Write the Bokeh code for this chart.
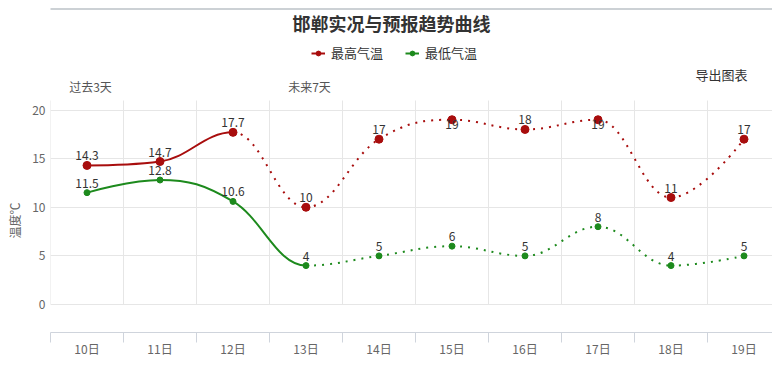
import math
from bokeh.plotting import figure
from bokeh.models import (ColumnDataSource, FixedTicker, Label, Legend, LegendItem,
                          BoxAnnotation, Range1d)
from bokeh.core.properties import value
from bokeh.embed import file_html
from bokeh.resources import INLINE

# ---------------- data ----------------
days = ["10日", "11日", "12日", "13日", "14日", "15日", "16日", "17日", "18日", "19日"]
high = [14.3, 14.7, 17.7, 10, 17, 19, 18, 19, 11, 17]
low = [11.5, 12.8, 10.6, 4, 5, 6, 5, 8, 4, 5]
high_solid_until = 2   # last index of solid (observed) part
low_solid_until = 3
y_ticks = [0, 5, 10, 15, 20]
series_names = ["最高气温", "最低气温"]
title_text = "邯郸实况与预报趋势曲线"
period_labels = ["过去3天", "未来7天"]
export_text = "导出图表"
y_title = "温度℃"

RED = "#a80d0d"
GREEN = "#1d8a1d"
GRID = "#e6e6e6"
AXIS = "#cfd4dc"
FONT = "Noto Sans CJK SC"

# ---------------- geometry (pixels of the page) ----------------
W, H = 772, 367
ML, MB = 50, 35
frame_bottom_px = H - MB          # 332
zero_px, twenty_px, plot_top_px = 304.0, 109.5, 100.0
ppu = (zero_px - twenty_px) / 20.0
cat_px = 73.0
x_start = -0.5
x_end = x_start + (W - ML) / cat_px
y_start = -(frame_bottom_px - zero_px) / ppu
y_end = zero_px / ppu
grid_top = (zero_px - plot_top_px) / ppu

xs = list(range(len(days)))


def spline(xv, yv, smoothing=1.5):
    n = len(xv)
    left = [(xv[i], yv[i]) for i in range(n)]
    right = [(xv[i], yv[i]) for i in range(n)]
    d = smoothing + 1
    for i in range(1, n - 1):
        px, py = xv[i], yv[i]
        lx, ly = xv[i - 1], yv[i - 1]
        nx, ny = xv[i + 1], yv[i + 1]
        lcx = (smoothing * px + lx) / d
        lcy = (smoothing * py + ly) / d
        rcx = (smoothing * px + nx) / d
        rcy = (smoothing * py + ny) / d
        corr = ((rcy - lcy) * (rcx - px)) / (rcx - lcx) + py - rcy
        lcy += corr
        rcy += corr
        if lcy > ly and lcy > py:
            lcy = max(ly, py); rcy = 2 * py - lcy
        elif lcy < ly and lcy < py:
            lcy = min(ly, py); rcy = 2 * py - lcy
        if rcy > ny and rcy > py:
            rcy = max(ny, py); lcy = 2 * py - rcy
        elif rcy < ny and rcy < py:
            rcy = min(ny, py); lcy = 2 * py - rcy
        left[i] = (lcx, lcy)
        right[i] = (rcx, rcy)
    segs = []
    for i in range(1, n):
        segs.append(dict(x0=xv[i - 1], y0=yv[i - 1], x1=xv[i], y1=yv[i],
                         cx0=right[i - 1][0], cy0=right[i - 1][1],
                         cx1=left[i][0], cy1=left[i][1], idx=i))
    return segs


def seg_sources(yv, solid_until):
    segs = spline(xs, yv)
    solid = {k: [s[k] for s in segs if s["idx"] <= solid_until] for k in segs[0]}
    dotted = {k: [s[k] for s in segs if s["idx"] > solid_until] for k in segs[0]}
    return ColumnDataSource(solid), ColumnDataSource(dotted)


p = figure(width=W, height=H, x_range=Range1d(x_start, x_end), y_range=Range1d(y_start, y_end),
           output_backend="svg", toolbar_location=None,
           min_border_left=ML, min_border_right=0, min_border_top=0, min_border_bottom=MB)
p.outline_line_color = None
p.background_fill_color = "white"
p.border_fill_color = "white"

# grids
p.xgrid.visible = False
p.ygrid.ticker = FixedTicker(ticks=y_ticks)
p.ygrid.grid_line_color = GRID
bounds = [i - 0.5 for i in range(len(days) + 1)]
p.segment(x0=bounds, y0=[0] * len(bounds), x1=bounds, y1=[grid_top] * len(bounds),
          line_color=GRID, line_width=1)

# axes
ya = p.yaxis[0]
ya.ticker = FixedTicker(ticks=y_ticks)
ya.axis_line_color = None
ya.major_tick_line_color = None
ya.minor_tick_line_color = None
ya.major_tick_out = 0
ya.major_tick_in = 0
ya.major_label_standoff = 5
ya.major_label_text_font = FONT
ya.major_label_text_font_size = "12px"
ya.major_label_text_color = "#666666"
# Highcharts centres the axis title on the 0-20 span, Bokeh on the whole frame:
# pad the end of the (upward-reading) title with ideographic spaces to move it down.
ya.axis_label = y_title + "\u3000" * 9
ya.axis_label_standoff = 6
ya.axis_label_text_font = FONT
ya.axis_label_text_font_size = "12px"
ya.axis_label_text_font_style = "normal"
ya.axis_label_text_color = "#666666"

xa = p.xaxis[0]
xa.ticker = FixedTicker(ticks=xs, minor_ticks=bounds)
xa.major_label_overrides = {i: d for i, d in enumerate(days)}
xa.axis_line_color = AXIS
xa.major_tick_line_color = None
xa.major_tick_out = 0
xa.major_tick_in = 0
xa.minor_tick_line_color = AXIS
xa.minor_tick_out = 10
xa.minor_tick_in = 0
xa.major_label_standoff = -3
xa.major_label_text_font = FONT
xa.major_label_text_font_size = "12px"
xa.major_label_text_color = "#666666"

# series
legend_items = []
for yv, solid_until, color, msize, name in [(high, high_solid_until, RED, 8, series_names[0]),
                                             (low, low_solid_until, GREEN, 6, series_names[1])]:
    s_src, d_src = seg_sources(yv, solid_until)
    p.bezier(x0="x0", y0="y0", x1="x1", y1="y1", cx0="cx0", cy0="cy0", cx1="cx1", cy1="cy1",
             source=s_src, line_color=color, line_width=2)
    p.bezier(x0="x0", y0="y0", x1="x1", y1="y1", cx0="cx0", cy0="cy0", cx1="cx1", cy1="cy1",
             source=d_src, line_color=color, line_width=2, line_dash="2 6")
    mr = p.scatter(x=xs, y=yv, size=msize, marker="circle", fill_color=color, line_color=color)
    leg_line = p.line(x=[float("nan")], y=[float("nan")], line_color=color, line_width=2)
    legend_items.append(LegendItem(label=name, renderers=[leg_line, mr]))
    # data labels: above the point unless that would leave the plot area
    above = [(grid_top - v) * ppu >= 22 for v in yv]
    src = ColumnDataSource(dict(
        x=xs, y=yv, t=[f"{v:g}" for v in yv],
        base=["bottom" if a else "top" for a in above],
        dy=[-5 if a else 0 for a in above]))
    p.text(x="x", y="y", text="t", source=src, text_align="center", text_baseline="base",
           y_offset="dy", text_font=value(FONT), text_font_size="12px", text_color="#333333")


def fr(px, py):
    # page pixel -> screen units relative to the frame (origin at frame bottom-left)
    return px - ML, frame_bottom_px - py


lgx, lgy = fr(311, 62)
legend = Legend(items=legend_items, location=(lgx, lgy), orientation="horizontal",
                glyph_width=14, glyph_height=12, label_standoff=6, spacing=22,
                padding=0, margin=0, border_line_color=None, background_fill_alpha=0,
                label_text_font=FONT, label_text_font_size="13px", label_text_color="#333333",
                label_height=16)
p.add_layout(legend)


def add_label(text, px, py, size, color, bold=False):
    sx, sy = fr(px, py)
    p.add_layout(Label(x=sx, y=sy, x_units="screen", y_units="screen", text=text,
                       text_align="center", text_baseline="middle",
                       text_font=FONT, text_font_size=size, text_color=color,
                       text_font_style="bold" if bold else "normal"))


add_label(title_text, 391, 22, "18px", "#333333", bold=True)
add_label(export_text, 721, 74, "13px", "#333333")
add_label(period_labels[0], 90, 86, "12px", "#555555")
add_label(period_labels[1], 309, 86, "12px", "#555555")

l0, t0 = fr(0, 8)
r0, _ = fr(W, 8)
p.add_layout(BoxAnnotation(left=l0, right=r0, top=t0, bottom=t0 - 1,
                           left_units="screen", right_units="screen",
                           top_units="screen", bottom_units="screen",
                           fill_color="#9aa3ab", fill_alpha=1, line_color=None))

open("out.html", "w").write(file_html(p, INLINE))
